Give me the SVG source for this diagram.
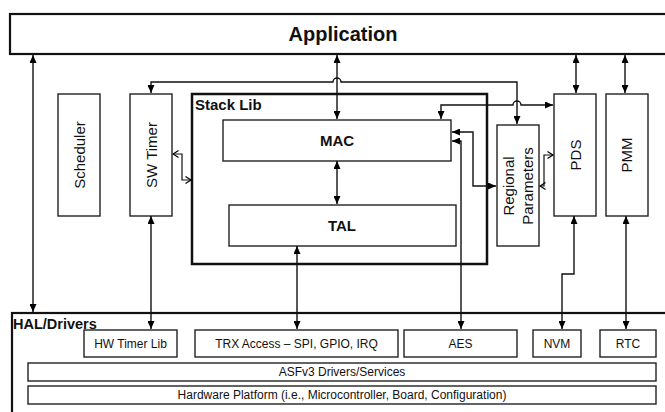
<svg xmlns="http://www.w3.org/2000/svg" width="665" height="412" viewBox="0 0 665 412">
<defs>
<marker id="ar" markerUnits="userSpaceOnUse" markerWidth="8" markerHeight="7" refX="8" refY="3.5" orient="auto-start-reverse"><path d="M0,0 L8,3.5 L0,7 z" fill="#000"/></marker>
<marker id="op" markerUnits="userSpaceOnUse" markerWidth="8" markerHeight="8" refX="6.5" refY="4" orient="auto-start-reverse"><path d="M1,0.5 L6.5,4 L1,7.5" fill="none" stroke="#000" stroke-width="1.2"/></marker>
<style>
.b{fill:#fff;stroke:#222;stroke-width:1.4}
.bt{fill:none;stroke:#111;stroke-width:2.2}
.c{fill:none;stroke:#111;stroke-width:1.4;marker-start:url(#ar);marker-end:url(#ar)}
.co{fill:none;stroke:#111;stroke-width:1.2;marker-start:url(#op);marker-end:url(#op)}
text{font-family:"Liberation Sans",Arial,sans-serif;fill:#111}
.bl{font-weight:bold}
.r{font-size:15px;text-anchor:middle}
.s{font-size:12px;text-anchor:middle}
</style>
</defs>
<rect width="665" height="412" fill="#fff"/>
<g id="application"><rect class="bt" x="10" y="14" width="660" height="40"/><text class="bl" x="343" y="41" font-size="20" text-anchor="middle">Application</text></g>
<g id="scheduler"><rect class="b" x="58" y="94" width="42" height="122"/><text class="r" transform="translate(85,155) rotate(-90)">Scheduler</text></g>
<g id="swtimer"><rect class="b" x="130" y="94" width="42" height="122"/><text class="r" transform="translate(157,155) rotate(-90)">SW Timer</text></g>
<g id="stacklib"><rect x="192" y="94" width="295" height="170" fill="none" stroke="#111" stroke-width="2.5"/><text class="bl" x="195" y="110" font-size="15">Stack Lib</text></g>
<g id="mac"><rect class="b" x="223" y="120" width="228" height="41"/><text class="bl" x="337" y="146" font-size="15" text-anchor="middle">MAC</text></g>
<g id="tal"><rect class="b" x="229" y="205" width="227" height="41"/><text class="bl" x="342" y="231" font-size="15" text-anchor="middle">TAL</text></g>
<g id="regional"><rect class="b" x="497" y="125" width="42" height="121"/><text class="r" transform="translate(514,186) rotate(-90)">Regional</text><text class="r" transform="translate(533,186) rotate(-90)">Parameters</text></g>
<g id="pds"><rect class="b" x="554" y="94" width="42" height="122"/><text class="r" transform="translate(581,155) rotate(-90)">PDS</text></g>
<g id="pmm"><rect class="b" x="606" y="94" width="42" height="122"/><text class="r" transform="translate(632,155) rotate(-90)">PMM</text></g>
<g id="hal"><rect class="bt" x="12" y="313" width="660" height="110"/><text class="bl" x="13" y="329" font-size="14.5">HAL/Drivers</text></g>
<g id="hwtimer"><rect class="b" x="84" y="330" width="93" height="27"/><text class="s" x="130.5" y="348">HW Timer Lib</text></g>
<g id="trx"><rect class="b" x="195" y="330" width="203" height="27"/><text class="s" x="296.5" y="348">TRX Access – SPI, GPIO, IRQ</text></g>
<g id="aes"><rect class="b" x="404" y="330" width="113" height="27"/><text class="s" x="460.5" y="348">AES</text></g>
<g id="nvm"><rect class="b" x="533" y="330" width="48" height="27"/><text class="s" x="557" y="348">NVM</text></g>
<g id="rtc"><rect class="b" x="600" y="330" width="56" height="27"/><text class="s" x="628" y="348">RTC</text></g>
<g id="asf"><rect class="b" x="28" y="363" width="628" height="18"/><text class="s" x="342" y="376">ASFv3 Drivers/Services</text></g>
<g id="hw"><rect class="b" x="28" y="386" width="628" height="18"/><text class="s" x="342" y="399">Hardware Platform (i.e., Microcontroller, Board, Configuration)</text></g>
<g id="connectors">
<path class="c" d="M33,55 V312"/>
<path class="c" d="M337,55 V119"/>
<path class="c" d="M337,161 V204"/>
<path class="c" d="M297,246 V329"/>
<path class="c" d="M151,216 V329"/>
<path class="c" d="M576,55 V93"/>
<path class="c" d="M625,55 V93"/>
<path class="c" d="M626,216 V329"/>
<path class="c" d="M574,216 V274 H562 V329"/>
<path class="c" d="M517,124 V82 H341 A4,4 0 0 0 333,82 H151 V93"/>
<path class="c" d="M441,119 V105 H513 A4,4 0 0 1 521,105 H553"/>
<path class="c" d="M452,132 H473 V186 H496"/>
<path class="c" d="M452,141 H461 V329"/>
<path class="co" d="M540,186 H544 V155 H553"/>
<path class="co" d="M173,154 H182 V180 H191"/>
</g>
</svg>
